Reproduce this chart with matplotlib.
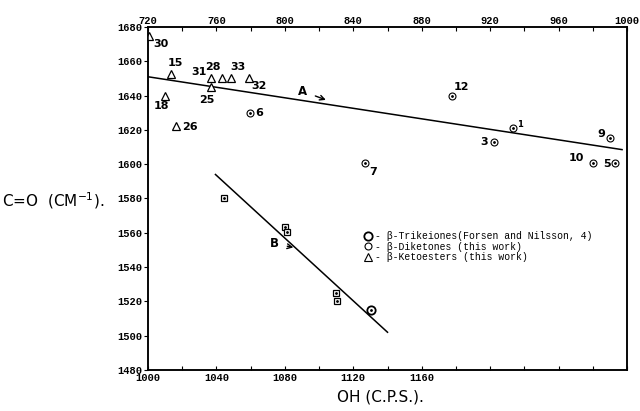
import matplotlib.pyplot as plt
from matplotlib.lines import Line2D

# beta-ketoesters, read on the top OH scale
keto_oh = [720.5, 733.5, 730.0, 736.5, 757.0, 757.0, 763.5, 768.5, 779.0]
keto_co = [1675.0, 1652.5, 1640.0, 1622.0, 1650.0, 1645.0, 1650.0, 1650.0, 1650.5]
keto_labels = ["30", "15", "18", "26", "31", "25", "28", "33", "32"]
keto_offsets = [(12, -8), (4, 11), (-4, -10), (14, -1), (-12, 6),
                (-4, -13), (-9, 11), (7, 11), (10, -8)]

# beta-diketones, top OH scale
dike_oh = [933.5, 922.0, 779.5, 897.5, 847.0, 990.0, 980.0, 993.0]
dike_co = [1621.0, 1613.0, 1630.0, 1640.0, 1600.5, 1615.5, 1600.5, 1600.5]
dike_labels = ["1", "3", "6", "12", "7", "9", "10", "5"]
dike_offsets = [(7, 4), (-10, 0), (9, 0), (10, 9), (8, -9),
                (-9, 4), (-17, 5), (-8, -1)]

# beta-triketones, bottom OH scale
tri_oh = [1044.5, 1080.0, 1081.5, 1110.0, 1110.5]
tri_co = [1580.0, 1563.5, 1560.5, 1525.0, 1520.0]
tri_circle_oh = [1130.5]
tri_circle_co = [1515.0]

line_a_oh = [720.0, 997.0]
line_a_co = [1651.0, 1608.5]
line_b_oh = [1039.5, 1140.0]
line_b_co = [1594.0, 1502.0]

MONO = "Liberation Mono"

fig = plt.figure(figsize=(6.4, 4.11), dpi=100)
ax = fig.add_axes([0.231, 0.0998, 0.749, 0.8345])
ax_top = ax.twiny()

ax.set_xlim(1000, 1280)
ax.set_ylim(1480, 1680)
ax_top.set_xlim(720, 1000)

bottom_ticks = list(range(1000, 1281, 20))
ax.set_xticks(bottom_ticks)
ax.set_xticklabels([str(t) if t % 40 == 0 and t <= 1160 else "" for t in bottom_ticks])
ax_top.set_xticks(list(range(720, 1001, 20)))
ax_top.set_xticklabels([str(t) if t % 40 == 0 else "" for t in range(720, 1001, 20)])
ax.set_yticks(list(range(1480, 1681, 20)))

for a in (ax, ax_top):
    for lab in a.get_xticklabels() + a.get_yticklabels():
        lab.set_fontfamily(MONO)
        lab.set_fontsize(7.5)
        lab.set_fontweight("bold")
ax.tick_params(axis="x", direction="in", length=3, pad=2)
ax_top.tick_params(axis="x", direction="in", length=3, pad=1)
ax.tick_params(axis="y", direction="out", length=3, pad=1)
for a in (ax, ax_top):
    for sp in a.spines.values():
        sp.set_linewidth(1.1)

# regression lines
ax_top.plot(line_a_oh, line_a_co, color="black", lw=1.1)
ax.plot(line_b_oh, line_b_co, color="black", lw=1.1)

# ketoesters
ax_top.plot(keto_oh, keto_co, linestyle="none", marker="^", markersize=5.5,
            markerfacecolor="white", markeredgecolor="black", markeredgewidth=0.9)
for x, y, t, off in zip(keto_oh, keto_co, keto_labels, keto_offsets):
    ax_top.annotate(t, (x, y), xytext=off, textcoords="offset pixels",
                    ha="center", va="center", fontsize=8, fontweight="bold")

# diketones
ax_top.plot(dike_oh, dike_co, linestyle="none", marker="o", markersize=5,
            markerfacecolor="white", markeredgecolor="black", markeredgewidth=0.8)
ax_top.plot(dike_oh, dike_co, linestyle="none", marker=".", markersize=2, color="black")
for x, y, t, off in zip(dike_oh, dike_co, dike_labels, dike_offsets):
    ax_top.annotate(t, (x, y), xytext=off, textcoords="offset pixels",
                    ha="center", va="center",
                    fontsize=6 if t == "1" else 8, fontweight="bold")

# triketones
ax.plot(tri_oh, tri_co, linestyle="none", marker="s", markersize=5,
        markerfacecolor="white", markeredgecolor="black", markeredgewidth=0.9)
ax.plot(tri_oh, tri_co, linestyle="none", marker=".", markersize=2, color="black")
ax.plot(tri_circle_oh, tri_circle_co, linestyle="none", marker="o", markersize=6,
        markerfacecolor="white", markeredgecolor="black", markeredgewidth=1.3)
ax.plot(tri_circle_oh, tri_circle_co, linestyle="none", marker=".", markersize=2, color="black")

# line labels
ax_top.annotate("A", (824, 1637.5), xytext=(810.5, 1642.5),
                fontsize=8.5, fontweight="bold", ha="center", va="center",
                arrowprops=dict(arrowstyle="->", lw=1, color="black", shrinkA=4, shrinkB=0))
ax.annotate("B", (1085, 1551.5), xytext=(1074, 1553.5),
            fontsize=8.5, fontweight="bold", ha="center", va="center",
            arrowprops=dict(arrowstyle="->", lw=1, color="black", shrinkA=4, shrinkB=0))

# legend
handles = [
    Line2D([], [], linestyle="none", marker="o", markersize=6, markerfacecolor="white",
           markeredgecolor="black", markeredgewidth=1.3),
    Line2D([], [], linestyle="none", marker="o", markersize=5, markerfacecolor="white",
           markeredgecolor="black", markeredgewidth=0.8),
    Line2D([], [], linestyle="none", marker="^", markersize=5.5, markerfacecolor="white",
           markeredgecolor="black", markeredgewidth=0.8),
]
labels = [
    "- \u03b2-Trikeiones(Forsen and Nilsson, 4)",
    "- \u03b2-Diketones (this work)",
    "- \u03b2-Ketoesters (this work)",
]
ax.legend(handles, labels, loc="upper left", bbox_to_anchor=(0.452, 0.405),
          frameon=False, prop={"family": MONO, "size": 7}, handlelength=0.8,
          handletextpad=0.3, labelspacing=0.05, borderpad=0, borderaxespad=0)

fig.text(0.003, 0.513, "C=O  (CM$^{-1}$).", fontsize=11, va="center", ha="left")
fig.text(0.594, 0.034, "OH (C.P.S.).", fontsize=11, va="center", ha="center")

fig.savefig("out.png", dpi=100)
